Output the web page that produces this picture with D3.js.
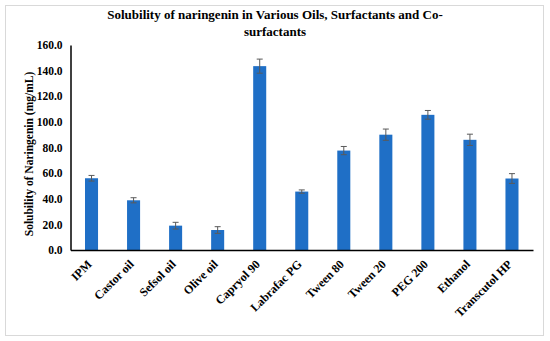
<!DOCTYPE html>
<html>
<head>
<meta charset="utf-8">
<script src="https://cdn.jsdelivr.net/npm/d3@7"></script>
<style>
  body { margin: 0; background: #fff; }
  text { font-family: "Liberation Serif", "Times New Roman", serif; font-weight: bold; fill: #000; }
</style>
</head>
<body>
<svg id="main_svg" width="550" height="341"></svg>
<script>
const categories = ['IPM', 'Castor oil', 'Sefsol oil', 'Olive oil', 'Capryol 90', 'Labrafac PG',
  'Tween 80', 'Tween 20', 'PEG 200', 'Ethanol', 'Transcutol HP'];
const solubility = [56.0, 38.8, 19.0, 15.6, 143.5, 45.6, 77.6, 90.0, 105.5, 86.0, 55.8];
const errors = [2.2, 2.0, 2.6, 2.6, 5.5, 1.3, 3.2, 4.4, 3.4, 4.4, 3.8];
const yTicks = [0, 20, 40, 60, 80, 100, 120, 140, 160];

const svg = d3.select('#main_svg');

// outer frame
svg.append('rect')
  .attr('x', 5.5).attr('y', 5.5)
  .attr('width', 538).attr('height', 330)
  .attr('fill', '#fff')
  .attr('stroke', '#d9d9d9');

const margin = { left: 70.5, right: 533, top: 45, bottom: 250 };

const x = d3.scaleBand()
  .domain(categories)
  .range([margin.left, margin.right])
  .paddingInner(0.69)
  .paddingOuter(0.345);

const y = d3.scaleLinear()
  .domain([0, 160])
  .range([margin.bottom, margin.top]);

// bars
svg.append('g')
  .selectAll('rect')
  .data(categories)
  .join('rect')
  .attr('x', d => x(d))
  .attr('y', (d, i) => y(solubility[i]))
  .attr('width', x.bandwidth())
  .attr('height', (d, i) => y(0) - y(solubility[i]))
  .attr('fill', '#1f6fc6');

// error bars
const err = svg.append('g')
  .attr('stroke', '#5a5a5a')
  .attr('stroke-width', 1);

categories.forEach(function(c, i) {
  let cx = x(c) + x.bandwidth() / 2;
  let lo = y(solubility[i] - errors[i]);
  let hi = y(solubility[i] + errors[i]);
  err.append('line').attr('x1', cx).attr('x2', cx).attr('y1', lo).attr('y2', hi);
  err.append('line').attr('x1', cx - 3).attr('x2', cx + 3).attr('y1', hi).attr('y2', hi);
  err.append('line').attr('x1', cx - 3).attr('x2', cx + 3).attr('y1', lo).attr('y2', lo);
});

// y axis
const yAxis = svg.append('g')
  .attr('transform', 'translate(' + margin.left + ',0)')
  .call(d3.axisLeft(y).tickValues(yTicks).tickSize(0).tickPadding(8).tickFormat(d3.format('.1f')));
yAxis.select('.domain').attr('stroke', '#000').attr('stroke-width', 1.5);
yAxis.selectAll('text').style('font-size', '11.5px').style('font-family', '"Liberation Serif", serif');

// x axis
const xAxis = svg.append('g')
  .attr('transform', 'translate(0,' + margin.bottom + ')')
  .call(d3.axisBottom(x).tickSize(0).tickPadding(0));
xAxis.select('.domain').attr('stroke', '#000').attr('stroke-width', 1.5);
xAxis.selectAll('text')
  .style('font-size', '12px')
  .style('font-family', '"Liberation Serif", serif')
  .attr('text-anchor', 'end')
  .attr('dy', '0.35em')
  .attr('transform', 'translate(-2,12) rotate(-45)');

// y axis title
svg.append('g')
  .attr('transform', 'translate(33,154)')
  .append('text')
  .text('Solubility of Naringenin (mg/mL)')
  .attr('text-anchor', 'middle')
  .attr('transform', 'rotate(-90)')
  .style('font-size', '11.5px');

// chart title
const title = svg.append('text')
  .attr('text-anchor', 'middle')
  .style('font-size', '13px');
title.append('tspan').attr('x', 275).attr('y', 19)
  .text('Solubility of naringenin in Various Oils, Surfactants and Co-');
title.append('tspan').attr('x', 275).attr('y', 36)
  .text('surfactants');
</script>
</body>
</html>
